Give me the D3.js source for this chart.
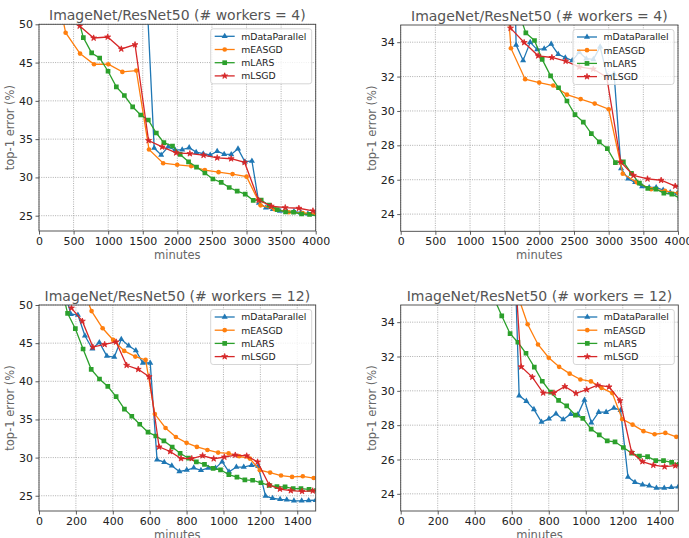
<!DOCTYPE html>
<html>
<head>
<meta charset="utf-8">
<script src="https://cdn.jsdelivr.net/npm/d3@7"></script>
<style>
body { margin: 0; background: #fff; }
svg { font-family: "DejaVu Sans", sans-serif; }
</style>
</head>
<body>
<svg id="chart" width="689" height="538"></svg>
<script>
const seriesNames = ["mDataParallel", "mEASGD", "mLARS", "mLSGD"];
const seriesColors = ["#1f77b4", "#ff7f0e", "#2ca02c", "#d62728"];

// # workers = 4, [minutes, top-1 error]
const w4DataParallel = [[1552,55],[1665,33.83],[1766,32.94],[1868,33.99],[1969,33.57],[2070,33.62],[2171,33.89],[2272,33.3],[2374,33.1],[2475,32.93],[2576,33.42],[2677,33.04],[2779,33.0],[2877,33.73],[2977,32.05],[3078,32.15],[3179,26.65],[3280,26.05],[3382,25.85],[3483,25.6],[3584,25.55],[3685,25.55],[3786,25.4],[3887,25.25],[3988,25.2]];
const w4EASGD = [[190,57.5],[385,48.9],[593,46.17],[795,44.78],[1002,44.78],[1205,43.78],[1407,43.95],[1590,33.65],[1795,31.85],[1998,31.65],[2200,31.48],[2398,30.95],[2596,30.69],[2798,30.43],[3001,30.1],[3203,26.35],[3406,25.85],[3612,25.45],[3812,25.35],[4005,25.22]];
const w4LARS = [[524,52.2],[641,48.26],[761,46.26],[877,45.6],[998,43.87],[1118,41.83],[1234,40.7],[1354,39.22],[1470,38.15],[1580,37.5],[1696,35.8],[1805,34.54],[1930,34.1],[2041,33.0],[2162,32.04],[2277,31.35],[2398,30.58],[2514,29.79],[2634,29.35],[2750,28.68],[2865,28.2],[2981,27.81],[3097,27.0],[3212,27.04],[3328,26.37],[3444,25.8],[3564,25.5],[3680,25.45],[3796,25.22],[3911,25.16],[4027,24.92]];
const w4LSGD = [[588,49.78],[790,48.21],[993,48.34],[1190,46.78],[1388,47.34],[1584,34.82],[1781,33.98],[1983,33.21],[2181,33.11],[2379,32.9],[2576,32.56],[2778,32.44],[2972,31.96],[3174,27.03],[3357,26.25],[3560,26.05],[3757,25.97],[3960,25.63],[4160,25.5]];

// # workers = 12
const w12DataParallel = [[135,52.1],[173,48.8],[211,48.7],[249,45.96],[289,44.26],[327,45.1],[368,43.3],[408,43.17],[446,45.5],[486,44.65],[525,44.05],[563,42.4],[603,42.4],[640,29.72],[679,29.4],[720,28.92],[761,28.18],[801,28.37],[839,28.66],[878,28.33],[918,28.64],[957,28.62],[993,29.47],[1030,28.14],[1070,28.76],[1110,28.76],[1152,29.0],[1188,28.87],[1228,24.98],[1266,24.67],[1307,24.53],[1343,24.47],[1382,24.34],[1424,24.34],[1462,24.38],[1500,24.41]];
const w12EASGD = [[225,53],[285,49.2],[345,46.95],[402,45.42],[462,43.98],[522,43.24],[578,42.8],[628,35.7],[686,33.88],[742,32.7],[800,31.93],[856,31.4],[913,31.0],[971,30.66],[1028,30.55],[1085,30.17],[1143,29.87],[1197,28.35],[1253,28.03],[1312,27.65],[1372,27.47],[1430,27.55],[1489,27.32]];
const w12LARS = [[110,53.5],[155,48.9],[197,46.9],[239,44.23],[283,41.57],[328,40.3],[373,39.33],[418,37.98],[463,36.35],[503,35.42],[546,34.37],[591,33.33],[633,32.83],[677,32.19],[722,31.38],[765,30.56],[810,29.92],[853,29.44],[897,29.12],[944,28.58],[984,28.4],[1029,27.77],[1073,27.43],[1116,27.08],[1158,27.03],[1203,26.7],[1248,26.37],[1290,26.2],[1334,26.17],[1378,25.94],[1420,25.94],[1464,25.83],[1505,25.72]];
const w12LSGD = [[176,49.6],[235,47.88],[292,44.48],[356,44.83],[418,45.16],[475,42.1],[538,41.57],[597,40.6],[651,31.4],[711,30.8],[770,29.88],[828,29.88],[887,30.25],[947,29.85],[1005,30.07],[1064,30.33],[1126,30.23],[1185,29.43],[1248,26.41],[1306,25.88],[1365,25.67],[1426,25.58],[1484,25.64],[1543,25.65]];

const xTicks4 = [0, 500, 1000, 1500, 2000, 2500, 3000, 3500, 4000];
const xTicks12 = [0, 200, 400, 600, 800, 1000, 1200, 1400];
const yTicksWide = [25, 30, 35, 40, 45, 50];
const yTicksZoom = [24, 26, 28, 30, 32, 34];

const svg = d3.select("#chart");

const panels = [
  { l: 39, r: 315.7, t: 24.3, b: 231, xMax: 4000, yDom: [23, 50], xT: xTicks4, yT: yTicksWide,
    title: "ImageNet/ResNet50 (# workers = 4)", series: [w4DataParallel, w4EASGD, w4LARS, w4LSGD] },
  { l: 400.7, r: 678, t: 25, b: 231.3, xMax: 4000, yDom: [23, 35], xT: xTicks4, yT: yTicksZoom,
    title: "ImageNet/ResNet50 (# workers = 4)", series: [w4DataParallel, w4EASGD, w4LARS, w4LSGD] },
  { l: 39, r: 315.7, t: 305, b: 511, xMax: 1500, yDom: [23, 50], xT: xTicks12, yT: yTicksWide,
    title: "ImageNet/ResNet50 (# workers = 12)", series: [w12DataParallel, w12EASGD, w12LARS, w12LSGD] },
  { l: 400.7, r: 678.3, t: 305, b: 511, xMax: 1500, yDom: [23, 35], xT: xTicks12, yT: yTicksZoom,
    title: "ImageNet/ResNet50 (# workers = 12)", series: [w12DataParallel, w12EASGD, w12LARS, w12LSGD] }
];

const symbols = [
  d3.symbol().type(d3.symbolTriangle).size(16),
  d3.symbol().type(d3.symbolCircle).size(17),
  d3.symbol().type(d3.symbolSquare).size(22),
  d3.symbol().type(d3.symbolStar).size(11)
];

panels.forEach((p, pi) => {
  const x = d3.scaleLinear().domain([0, p.xMax]).range([p.l, p.r]);
  const y = d3.scaleLinear().domain(p.yDom).range([p.b, p.t]);
  const g = svg.append("g");

  const clipId = "clip" + pi;
  svg.append("clipPath").attr("id", clipId)
    .append("rect")
      .attr("x", p.l).attr("y", p.t)
      .attr("width", p.r - p.l).attr("height", p.b - p.t);

  // grid
  g.append("g")
    .selectAll("line")
    .data(p.xT)
    .join("line")
      .attr("x1", d => x(d)).attr("x2", d => x(d))
      .attr("y1", p.t).attr("y2", p.b)
      .attr("stroke", "#9a9a9a").attr("stroke-width", 0.8)
      .attr("stroke-dasharray", "1,1.3");
  g.append("g")
    .selectAll("line")
    .data(p.yT)
    .join("line")
      .attr("x1", p.l).attr("x2", p.r)
      .attr("y1", d => y(d)).attr("y2", d => y(d))
      .attr("stroke", "#9a9a9a").attr("stroke-width", 0.8)
      .attr("stroke-dasharray", "1,1.3");

  // series
  const plot = g.append("g").attr("clip-path", `url(#${clipId})`);
  const line = d3.line().x(d => x(d[0])).y(d => y(d[1]));
  p.series.forEach((s, si) => {
    plot.append("path")
      .attr("d", line(s))
      .attr("fill", "none")
      .attr("stroke", seriesColors[si])
      .attr("stroke-width", 1.3);
    plot.append("g")
      .selectAll("path")
      .data(s)
      .join("path")
        .attr("transform", d => `translate(${x(d[0])},${y(d[1])})`)
        .attr("d", symbols[si]())
        .attr("fill", seriesColors[si])
        .attr("stroke", seriesColors[si])
        .attr("stroke-width", si === 3 ? 0.8 : 0);
  });

  // axes
  const xAxis = g.append("g")
    .attr("transform", `translate(0,${p.b})`)
    .call(d3.axisBottom(x).tickValues(p.xT).tickFormat(d3.format("d")).tickSize(3.5).tickPadding(2.5));
  const yAxis = g.append("g")
    .attr("transform", `translate(${p.l},0)`)
    .call(d3.axisLeft(y).tickValues(p.yT).tickFormat(d3.format("d")).tickSize(3.5).tickPadding(2.5));
  [xAxis, yAxis].forEach(a => {
    a.select(".domain").remove();
    a.selectAll("line").attr("stroke", "#333").attr("stroke-width", 0.8);
    a.selectAll("text")
      .attr("fill", "#222")
      .style("font-size", "11px")
      .style("font-family", "DejaVu Sans");
  });

  g.append("rect")
    .attr("x", p.l).attr("y", p.t)
    .attr("width", p.r - p.l).attr("height", p.b - p.t)
    .attr("fill", "none").attr("stroke", "#444").attr("stroke-width", 0.9);

  // labels
  g.append("text")
    .attr("x", (p.l + p.r) / 2).attr("y", p.t - 4.5)
    .attr("text-anchor", "middle")
    .attr("fill", "#555")
    .style("font-size", "14px")
    .text(p.title);
  g.append("text")
    .attr("x", (p.l + p.r) / 2).attr("y", p.b + 28)
    .attr("text-anchor", "middle")
    .attr("fill", "#666")
    .style("font-size", "11.5px")
    .text("minutes");
  g.append("text")
    .attr("transform", `translate(${p.l - 25},${(p.t + p.b) / 2}) rotate(-90)`)
    .attr("text-anchor", "middle")
    .attr("fill", "#666")
    .style("font-size", "11.5px")
    .text("top-1 error (%)");

  // legend
  const lw = 101, lh = 55;
  const lx = p.r - lw - 4, ly = p.t + 4.5;
  const leg = g.append("g");
  leg.append("rect")
    .attr("x", lx).attr("y", ly)
    .attr("width", lw).attr("height", lh)
    .attr("rx", 2.5)
    .attr("fill", "#fff").attr("fill-opacity", 0.8)
    .attr("stroke", "#ccc").attr("stroke-width", 0.8);
  seriesNames.forEach((name, si) => {
    const ry = ly + 7.5 + si * 13.2;
    leg.append("line")
      .attr("x1", lx + 4).attr("x2", lx + 24)
      .attr("y1", ry).attr("y2", ry)
      .attr("stroke", seriesColors[si]).attr("stroke-width", 1.3);
    leg.append("path")
      .attr("transform", `translate(${lx + 14},${ry})`)
      .attr("d", symbols[si]())
      .attr("fill", seriesColors[si])
      .attr("stroke", seriesColors[si])
      .attr("stroke-width", si === 3 ? 0.8 : 0);
    leg.append("text")
      .attr("x", lx + 30.5).attr("y", ry + 3.3)
      .attr("fill", "#222")
      .style("font-size", "9.3px")
      .text(name);
  });
});
</script>
</body>
</html>
